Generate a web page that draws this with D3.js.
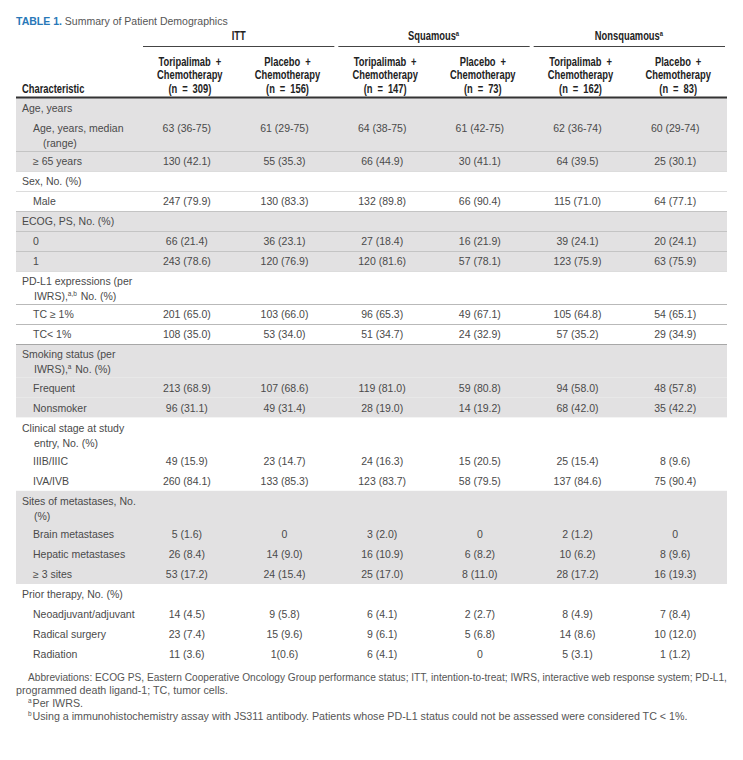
<!DOCTYPE html>
<html>
<head>
<meta charset="utf-8">
<script src="https://cdn.jsdelivr.net/npm/d3@7"></script>
<style>
  html, body { margin: 0; padding: 0; background: #fff; }
  svg { display: block; }
</style>
</head>
<body>
<div id="chart"></div>
<script>
// ---------- DATA ----------
const titleLabel = "TABLE 1.";
const titleText = "Summary of Patient Demographics";
const groupLabels = ["ITT", "Squamous^{a}", "Nonsquamous^{a}"];
const armLabels = ["Toripalimab +|Chemotherapy", "Placebo +|Chemotherapy"];
const armCounts = [309, 156, 147, 73, 162, 83];

const characteristics = [
  "Age, years",
  "Age, years, median|(range)",
  "≥ 65 years",
  "Sex, No. (%)",
  "Male",
  "ECOG, PS, No. (%)",
  "0",
  "1",
  "PD-L1 expressions (per|IWRS),^{a,b} No. (%)",
  "TC ≥ 1%",
  "TC< 1%",
  "Smoking status (per|IWRS),^{a} No. (%)",
  "Frequent",
  "Nonsmoker",
  "Clinical stage at study|entry, No. (%)",
  "IIIB/IIIC",
  "IVA/IVB",
  "Sites of metastases, No.|(%)",
  "Brain metastases",
  "Hepatic metastases",
  "≥ 3 sites",
  "Prior therapy, No. (%)",
  "Neoadjuvant/adjuvant",
  "Radical surgery",
  "Radiation"
];
const isSectionHeader = [1,0,0,1,0,1,0,0,1,0,0,1,0,0,1,0,0,1,0,0,0,1,0,0,0];
const sectionShaded   = [1,1,1,0,0,1,1,1,0,0,0,1,1,1,0,0,0,1,1,1,1,0,0,0,0];

const ittToripalimab = [null,"63 (36-75)","130 (42.1)",null,"247 (79.9)",null,"66 (21.4)","243 (78.6)",null,"201 (65.0)","108 (35.0)",null,"213 (68.9)","96 (31.1)",null,"49 (15.9)","260 (84.1)",null,"5 (1.6)","26 (8.4)","53 (17.2)",null,"14 (4.5)","23 (7.4)","11 (3.6)"];
const ittPlacebo     = [null,"61 (29-75)","55 (35.3)",null,"130 (83.3)",null,"36 (23.1)","120 (76.9)",null,"103 (66.0)","53 (34.0)",null,"107 (68.6)","49 (31.4)",null,"23 (14.7)","133 (85.3)",null,"0","14 (9.0)","24 (15.4)",null,"9 (5.8)","15 (9.6)","1(0.6)"];
const sqToripalimab  = [null,"64 (38-75)","66 (44.9)",null,"132 (89.8)",null,"27 (18.4)","120 (81.6)",null,"96 (65.3)","51 (34.7)",null,"119 (81.0)","28 (19.0)",null,"24 (16.3)","123 (83.7)",null,"3 (2.0)","16 (10.9)","25 (17.0)",null,"6 (4.1)","9 (6.1)","6 (4.1)"];
const sqPlacebo      = [null,"61 (42-75)","30 (41.1)",null,"66 (90.4)",null,"16 (21.9)","57 (78.1)",null,"49 (67.1)","24 (32.9)",null,"59 (80.8)","14 (19.2)",null,"15 (20.5)","58 (79.5)",null,"0","6 (8.2)","8 (11.0)",null,"2 (2.7)","5 (6.8)","0"];
const nsqToripalimab = [null,"62 (36-74)","64 (39.5)",null,"115 (71.0)",null,"39 (24.1)","123 (75.9)",null,"105 (64.8)","57 (35.2)",null,"94 (58.0)","68 (42.0)",null,"25 (15.4)","137 (84.6)",null,"2 (1.2)","10 (6.2)","28 (17.2)",null,"8 (4.9)","14 (8.6)","5 (3.1)"];
const nsqPlacebo     = [null,"60 (29-74)","25 (30.1)",null,"64 (77.1)",null,"20 (24.1)","63 (75.9)",null,"54 (65.1)","29 (34.9)",null,"48 (57.8)","35 (42.2)",null,"8 (9.6)","75 (90.4)",null,"0","8 (9.6)","16 (19.3)",null,"7 (8.4)","10 (12.0)","1 (1.2)"];

const footnotes = [
  "Abbreviations: ECOG PS, Eastern Cooperative Oncology Group performance status; ITT, intention-to-treat; IWRS, interactive web response system; PD-L1,",
  "programmed death ligand-1; TC, tumor cells.",
  "^{a}Per IWRS.",
  "^{b}Using a immunohistochemistry assay with JS311 antibody. Patients whose PD-L1 status could not be assessed were considered TC < 1%."
];

// ---------- LAYOUT ----------
const W = 743, H = 760;
const left = 16, right = 727;
const tableTop = 98;
const singleH = 20, doubleH = 33.2;

const columns = [ittToripalimab, ittPlacebo, sqToripalimab, sqPlacebo, nsqToripalimab, nsqPlacebo];
const colIdx = d3.range(columns.length);
const x = d3.scaleBand().domain(colIdx).range([141, 727]);

const bodyFont = "'Liberation Sans', Arial, sans-serif";
const headFont = "'Liberation Sans', Arial, sans-serif";
const headScale = 0.78;
const textGray = "#4a4a4a";
const lineGray = "#505050";
const bandGray = "#e2e1e2";

const svg = d3.select("#chart").append("svg")
  .attr("width", W).attr("height", H)
  .attr("viewBox", `0 0 ${W} ${H}`);

svg.append("rect").attr("width", W).attr("height", H).attr("fill", "#fff");

function richText(sel, str, supSize) {
  const parts = str.split(/(\^\{[^}]*\})/).filter(p => p.length);
  parts.forEach(p => {
    const m = p.match(/^\^\{([^}]*)\}$/);
    if (m) {
      sel.append("tspan").attr("font-size", supSize).attr("dy", -4).text(m[1]);
      sel.append("tspan").attr("dy", 4).text("\u200A");
    } else {
      sel.append("tspan").text(p);
    }
  });
}

function headText(px, py, anchor, str) {
  const t = svg.append("text")
    .attr("transform", `translate(${px},${py}) scale(${headScale},1)`)
    .attr("text-anchor", anchor)
    .attr("font-family", headFont).attr("font-weight", "bold")
    .attr("font-size", 12).attr("fill", "#222")
    .attr("word-spacing", 3);
  richText(t, str, 7.5);
  return t;
}

// Title
const title = svg.append("text").attr("x", 16).attr("y", 24.5)
  .attr("font-family", bodyFont).attr("font-size", 10.5);
title.append("tspan").attr("font-weight", "bold").attr("fill", "#2878b8").text(titleLabel);
title.append("tspan").attr("fill", "#555").text(" " + titleText);

// Group headers
groupLabels.forEach((g, i) => {
  const x0 = x(i * 2) + 2, x1 = x(i * 2 + 1) + x.bandwidth() - 2;
  headText((x0 + x1) / 2, 40, "middle", g);
  svg.append("line")
    .attr("x1", x0).attr("x2", x1)
    .attr("y1", 46.5).attr("y2", 46.5)
    .attr("stroke", "#444").attr("stroke-width", 1.2);
});

// Column headers
colIdx.forEach(i => {
  const lines = armLabels[i % 2].split("|").concat([`(n = ${armCounts[i]})`]);
  const cx = x(i) + x.bandwidth() / 2;
  lines.forEach((ln, k) => headText(cx, 65.5 + k * 13.5, "middle", ln));
});
headText(22, 92.5, "start", "Characteristic");

// Row positions
const rowHeights = characteristics.map(c => c.includes("|") ? doubleH : singleH);
const rowTops = [];
rowHeights.reduce((acc, h, i) => { rowTops[i] = acc; return acc + h; }, tableTop);

const rows = svg.append("g").selectAll("g.row")
  .data(characteristics.map((c, i) => ({ label: c, i })))
  .join("g").attr("class", "row");

rows.append("rect")
  .attr("x", left).attr("width", right - left)
  .attr("y", d => rowTops[d.i]).attr("height", d => rowHeights[d.i])
  .attr("fill", d => sectionShaded[d.i] ? bandGray : "#fff");

rows.filter(d => d.i < characteristics.length - 1)
  .append("line")
  .attr("x1", left).attr("x2", right)
  .attr("y1", d => Math.round(rowTops[d.i] + rowHeights[d.i]) + 0.5)
  .attr("y2", d => Math.round(rowTops[d.i] + rowHeights[d.i]) + 0.5)
  .attr("stroke", lineGray).attr("stroke-width", 1);

rows.each(function(d) {
  const g = d3.select(this);
  const hdr = isSectionHeader[d.i];
  d.label.split("|").forEach((ln, k) => {
    const xPos = hdr ? (k === 0 ? 22 : 34) : (k === 0 ? 33 : 43);
    const t = g.append("text")
      .attr("x", xPos).attr("y", rowTops[d.i] + 14 + k * 15)
      .attr("font-family", bodyFont).attr("font-size", 10.5)
      .attr("fill", textGray);
    richText(t, ln, 6.5);
  });
  columns.forEach((col, c) => {
    const v = col[d.i];
    if (v == null) return;
    g.append("text")
      .attr("x", x(c) + x.bandwidth() / 2 - 3)
      .attr("y", rowTops[d.i] + 14)
      .attr("text-anchor", "middle")
      .attr("font-family", bodyFont).attr("font-size", 10.5)
      .attr("fill", textGray)
      .text(v);
  });
});

svg.append("line")
  .attr("x1", left).attr("x2", right)
  .attr("y1", 97.5).attr("y2", 97.5)
  .attr("stroke", "#333").attr("stroke-width", 2);

// Footnotes
const fnX = [28, 16, 28, 28];
const fnY = [680.5, 693.5, 706.5, 719.5];
footnotes.forEach((f, i) => {
  const t = svg.append("text")
    .attr("x", fnX[i]).attr("y", fnY[i])
    .attr("font-family", bodyFont).attr("font-size", 10.7)
    .attr("fill", "#555");
  richText(t, f, 6.5);
  if (i === 0) {
    // shrink the first (justified) line so it fits the table width naturally
    const target = right - fnX[0];
    const w = t.node().getComputedTextLength();
    if (w > target) t.attr("font-size", 10.7 * target / w);
  }
});
</script>
</body>
</html>
